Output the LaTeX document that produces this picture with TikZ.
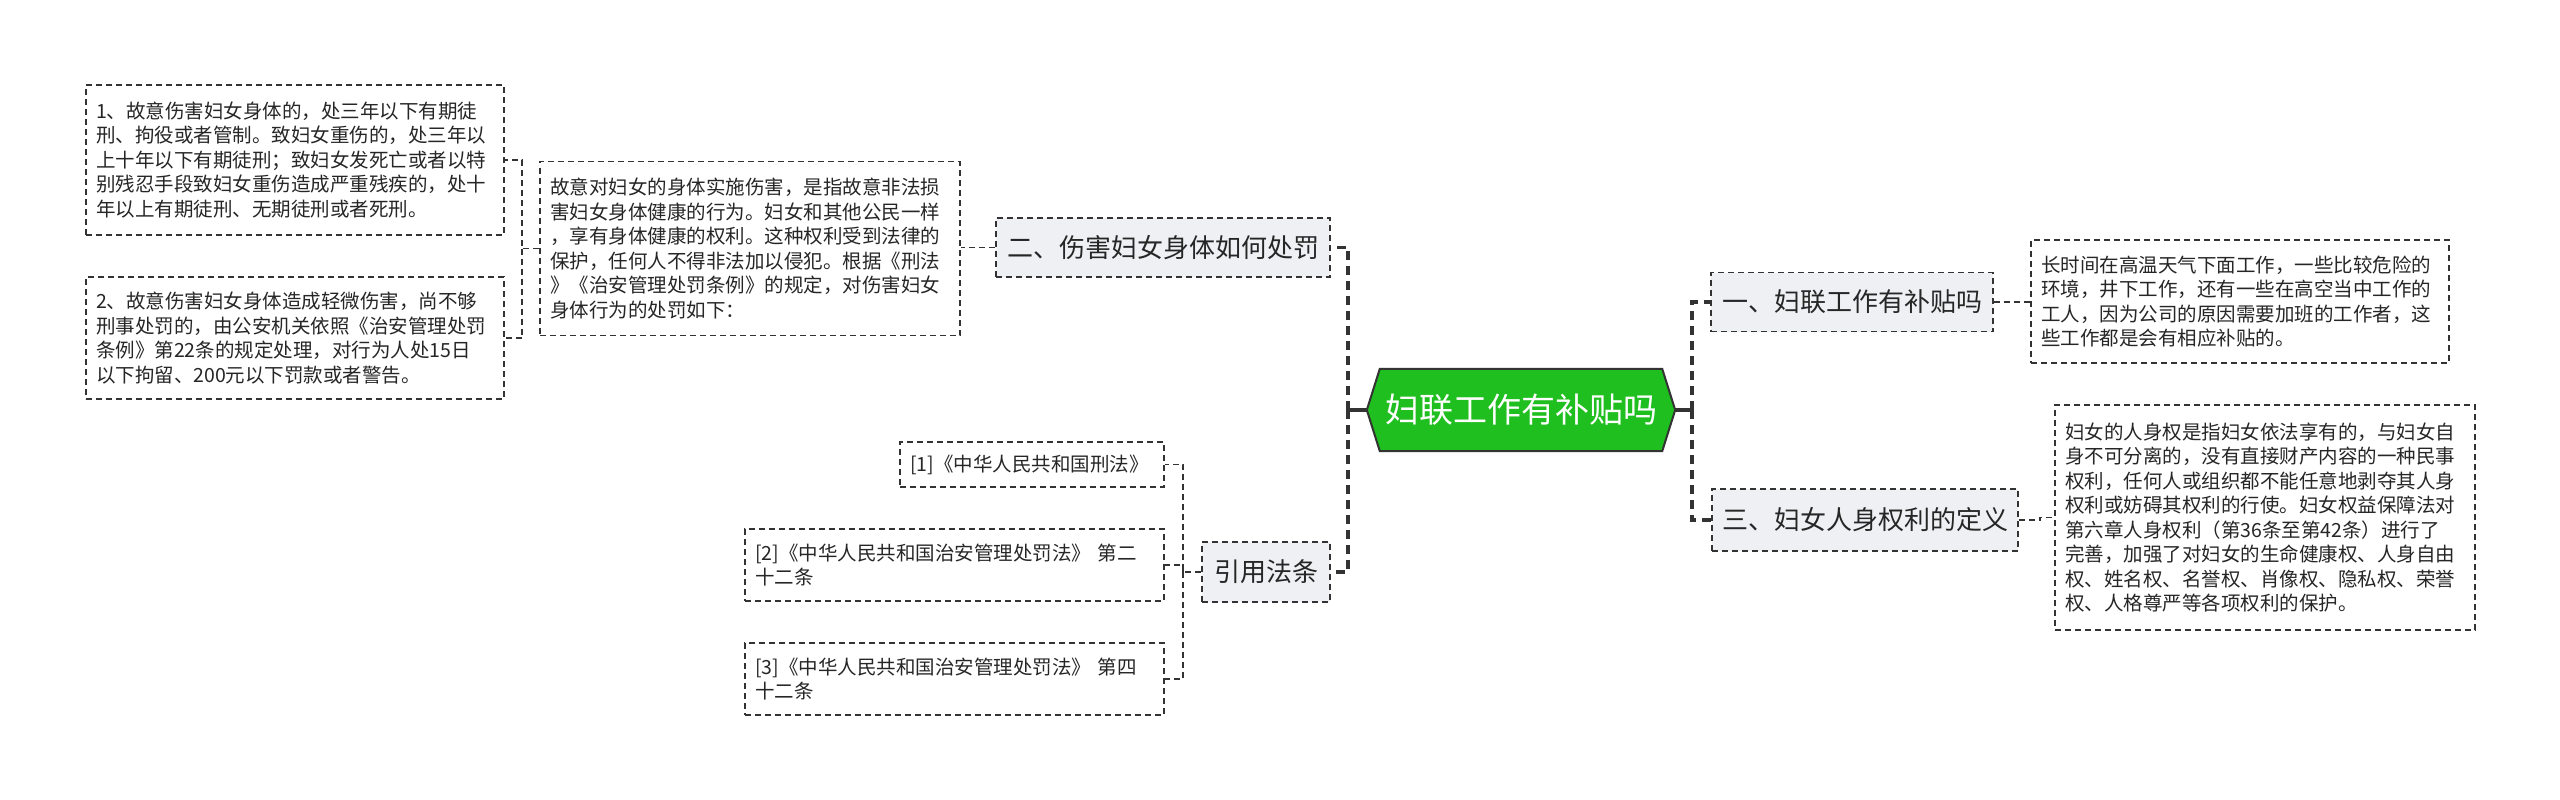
\documentclass[tikz,border=0pt]{standalone}
\usepackage{fontspec}
\setmainfont{Noto Sans CJK SC}
\usetikzlibrary{backgrounds}
\definecolor{lc}{HTML}{333333}
\definecolor{nfill}{HTML}{EEF0F3}
\definecolor{cgreen}{HTML}{1FBF1F}
\begin{document}
\begin{tikzpicture}[x=1pt,y=-1pt,
  box/.style={draw=lc, line width=1.5pt, dash pattern=on 6pt off 4pt, align=left,
    inner xsep=10pt, inner ysep=0pt, font=\fontsize{19.5}{24.5}\selectfont, text=black!85},
  lvl/.style={draw=lc, fill=nfill, line width=1.6pt, dash pattern=on 6pt off 4pt,
    inner sep=0pt, font=\fontsize{26}{30}\selectfont, text=black!85},
  con/.style={draw=lc, line width=1.6pt, dash pattern=on 6pt off 4pt},
  mainline/.style={draw=lc, line width=3.5pt, dash pattern=on 9pt off 6pt},
  stub/.style={draw=lc, line width=3.5pt}]
\useasboundingbox (0,0) rectangle (2560,800);

% central
\node[minimum width=308pt, minimum height=82pt, inner sep=0pt, text=white,
  font=\fontsize{34}{40}\selectfont] (c) at (1521,410) {妇联工作有补贴吗};
\begin{scope}[on background layer]
\fill[white] (0,0) rectangle (2560,800);
\draw[fill=cgreen, draw=lc, line width=2pt, line join=miter]
  ([xshift=13pt]c.north west) -- ([xshift=-13pt]c.north east) -- (c.east)
  -- ([xshift=-13pt]c.south east) -- ([xshift=13pt]c.south west) -- (c.west) -- cycle;
\end{scope}

% level 1
\node[lvl, minimum width=334pt, minimum height=59pt] (n2) at (1163,247.5) {二、伤害妇女身体如何处罚};
\node[lvl, minimum width=128pt, minimum height=60pt] (ref) at (1266,572) {引用法条};
\node[lvl, minimum width=282pt, minimum height=59pt] (n1) at (1852,302) {一、妇联工作有补贴吗};
\node[lvl, minimum width=306pt, minimum height=62pt] (n3) at (1865,520) {三、妇女人身权利的定义};

% leaves
\node[box, text width=398pt, minimum height=150pt] (b1) at (295,160) {1、故意伤害妇女身体的，处三年以下有期徒\\刑、拘役或者管制。致妇女重伤的，处三年以\\上十年以下有期徒刑；致妇女发死亡或者以特\\别残忍手段致妇女重伤造成严重残疾的，处十\\年以上有期徒刑、无期徒刑或者死刑。};
\node[box, text width=398pt, minimum height=122pt] (b2) at (295,338) {2、故意伤害妇女身体造成轻微伤害，尚不够\\刑事处罚的，由公安机关依照《治安管理处罚\\条例》第22条的规定处理，对行为人处15日\\以下拘留、200元以下罚款或者警告。};
\node[box, text width=400pt, minimum height=174pt] (b3) at (750,248.5) {故意对妇女的身体实施伤害，是指故意非法损\\害妇女身体健康的行为。妇女和其他公民一样\\，享有身体健康的权利。这种权利受到法律的\\保护，任何人不得非法加以侵犯。根据《刑法\\》《治安管理处罚条例》的规定，对伤害妇女\\身体行为的处罚如下：};
\node[box, text width=398pt, minimum height=123pt] (d1) at (2240,301.5) {长时间在高温天气下面工作，一些比较危险的\\环境，井下工作，还有一些在高空当中工作的\\工人，因为公司的原因需要加班的工作者，这\\些工作都是会有相应补贴的。};
\node[box, text width=400pt, minimum height=225pt] (d3) at (2265,517.5) {妇女的人身权是指妇女依法享有的，与妇女自\\身不可分离的，没有直接财产内容的一种民事\\权利，任何人或组织都不能任意地剥夺其人身\\权利或妨碍其权利的行使。妇女权益保障法对\\第六章人身权利（第36条至第42条）进行了\\完善，加强了对妇女的生命健康权、人身自由\\权、姓名权、名誉权、肖像权、隐私权、荣誉\\权、人格尊严等各项权利的保护。};
\node[box, text width=244pt, minimum height=45pt] (r1) at (1032,464.5) {[1]《中华人民共和国刑法》};
\node[box, text width=399pt, minimum height=72pt] (r2) at (954.5,565) {[2]《中华人民共和国治安管理处罚法》 第二\\十二条};
\node[box, text width=399pt, minimum height=72pt] (r3) at (954.5,679) {[3]《中华人民共和国治安管理处罚法》 第四\\十二条};

% connectors
\coordinate (L) at (1348,410);
\coordinate (R) at (1692,410);
\draw[stub] (c.west) -- (L);
\draw[mainline] (L) |- (n2.east);
\draw[mainline] (L) |- (ref.east);
\draw[stub] (c.east) -- (R);
\draw[mainline] (R) |- (n1.west);
\draw[mainline] (R) |- (n3.west);

\draw[con] (n2.west) -- (n2.west -| b3.east);
\coordinate (B) at (522,248.5);
\draw[con] (b3.west) -- (B) |- (b1.east);
\draw[con] (B) |- (b2.east);

\coordinate (F) at (1183,572);
\draw[con] (ref.west) -- (F) |- (r1.east);
\draw[con] (F) |- (r2.east);
\draw[con] (F) |- (r3.east);

\draw[con] (n1.east) -- (n1.east -| d1.west);
\coordinate (G) at (2040,520);
\draw[con] (n3.east) -- (G) |- (d3.west);
\end{tikzpicture}
\end{document}
